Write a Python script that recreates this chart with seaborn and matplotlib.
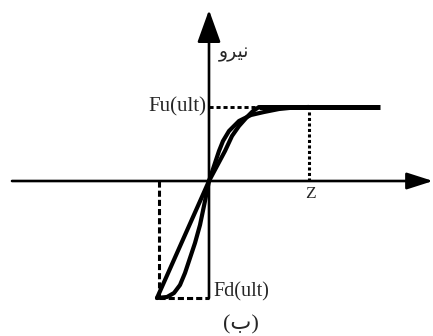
import matplotlib
matplotlib.use("Agg")
import matplotlib.pyplot as plt
import seaborn as sns
import pandas as pd

sns.set_theme(style="white")
plt.rcParams["font.family"] = ["Liberation Serif", "DejaVu Sans"]

# Force-displacement schematic (units: arbitrary, origin at zero)
FU = 74          # ultimate upward force Fu(ult)
FD = -117        # ultimate downward force Fd(ult)
Z = 100          # displacement where the nonlinear curve reaches Fu
D_NEG = -50      # displacement at Fd(ult)
PLATEAU_END = 171

# nonlinear (hyperbolic) curve
curve_x = [-52, -42, -35, -29, -24, -19, -14, -9, -4, 0,
           5, 10, 14, 20, 30, 42, 55, 70, 85, 100]
curve_y = [-117, -116, -112, -104, -92, -77, -62, -44, -20, 0,
           15, 30, 40, 50, 60, 66, 69, 72, 73.5, 74]

# near-linear curve
lin_x = [-52, 0, 8, 16, 23, 30, 38, 44, 50]
lin_y = [-117, 0, 15, 30, 45, 55, 64, 70, 74]

df = pd.concat([
    pd.DataFrame({"d": curve_x, "f": curve_y, "c": "nl"}),
    pd.DataFrame({"d": lin_x, "f": lin_y, "c": "lin"}),
])

fig = plt.figure(figsize=(4.33, 3.36), dpi=100)
ax = fig.add_axes([0, 0, 1, 1])
ax.set_xlim(-209, 224)
ax.set_ylim(-155, 181)
ax.axis("off")

# axes with arrow heads
ax.annotate("", xy=(224, 0), xytext=(-197, 0),
            arrowprops=dict(arrowstyle="-|>,head_length=1.0,head_width=0.32",
                            mutation_scale=16, lw=1.9, color="black",
                            shrinkA=0, shrinkB=0))
ax.annotate("", xy=(0, 171), xytext=(0, FD),
            arrowprops=dict(arrowstyle="-|>,head_length=1.0,head_width=0.36",
                            mutation_scale=20, lw=1.9, color="black",
                            shrinkA=0, shrinkB=0))

# reference dashed lines
ax.plot([0, lin_x[-1]], [FU, FU], ls=(0, (1.4, 1.0)), lw=2.1, color="black")
ax.plot([Z, Z], [0, FU], ls=(0, (1.0, 0.8)), lw=2.2, color="black")
ax.plot([D_NEG, D_NEG], [0, FD], ls=(0, (2.0, 1.0)), lw=2.2, color="black")
ax.plot([D_NEG, 0], [FD, FD], ls=(0, (2.0, 1.0)), lw=2.2, color="black")

# curves
sns.lineplot(data=df, x="d", y="f", units="c", estimator=None, sort=False,
             color="black", lw=3, ax=ax, legend=False)
ax.plot([lin_x[-1], PLATEAU_END], [FU, FU], color="black", lw=3.6,
        solid_capstyle="butt")

# labels
ax.text(-3, FU, "Fu(ult)", ha="right", va="center", fontsize=15)
ax.text(4, FD + 6, "Fd(ult)", ha="left", va="center", fontsize=14.5)
ax.text(Z + 1, -13, "Z", ha="center", va="center", fontsize=12.5)
ax.text(10, 129, "\uFEED\uFEAE\uFBFF\uFEE7", ha="left", va="center",
        fontsize=13.5, family=["DejaVu Sans"])
ax.text(32, -144, "(\uFE8F)", ha="center", va="center", fontsize=16,
        family=["Liberation Serif", "DejaVu Sans"])

fig.savefig("out.png", dpi=100, facecolor="white")
